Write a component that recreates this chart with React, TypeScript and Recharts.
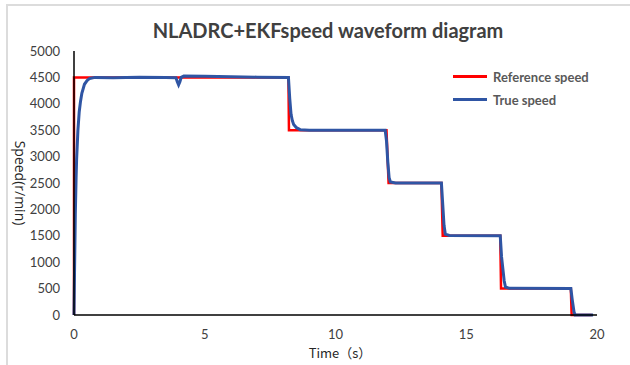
import React from 'react';
import { LineChart, Line, XAxis, YAxis } from 'recharts';

// reference (setpoint) speed, step profile
const refTime = [0, 0, 8.2, 8.22, 11.95, 12.03, 14.05, 14.1, 16.3, 16.33, 19.0, 19.03, 19.8];
const refSpeed = [0, 4500, 4500, 3500, 3500, 2500, 2500, 1500, 1500, 500, 500, 0, 0];

// measured speed
const trueTime = [
  0, 0.02, 0.05, 0.08, 0.1, 0.15, 0.2, 0.25, 0.3, 0.4, 0.5, 0.6, 0.8, 1.5, 2.5, 3.5, 3.9, 3.95, 4.0,
  4.05, 4.1, 4.2, 5, 6, 7, 8.2, 8.25, 8.3, 8.35, 8.4, 8.5, 8.65, 9, 11.9, 11.95, 12.0, 12.05, 12.1,
  12.3, 14.05, 14.1, 14.15, 14.2, 14.35, 16.3, 16.35, 16.45, 16.5, 16.65, 19.0, 19.05, 19.12, 19.16, 19.85,
];
const trueSpeed = [
  0, 800, 1900, 2600, 2950, 3500, 3850, 4050, 4200, 4370, 4440, 4480, 4500, 4495, 4505, 4500, 4495, 4420, 4360,
  4420, 4500, 4525, 4520, 4510, 4505, 4500, 4100, 3800, 3680, 3610, 3550, 3510, 3500, 3500, 3300, 2900, 2600, 2520,
  2500, 2500, 2100, 1700, 1530, 1505, 1500, 1100, 650, 530, 505, 500, 300, 60, 0, 0,
];

const xTicks = [0, 5, 10, 15, 20];
const yTicks = [0, 500, 1000, 1500, 2000, 2500, 3000, 3500, 4000, 4500, 5000];

const FONT = 'Lato, "Noto Sans", sans-serif';
const RED = '#ff0000';
const BLUE = '#2f55a4';

const refData = refTime.map((t, i) => ({ t, v: refSpeed[i] }));
const trueData = trueTime.map((t, i) => ({ t, v: trueSpeed[i] }));

const legendItems = [
  { name: 'Reference speed', color: RED },
  { name: 'True speed', color: BLUE },
];

export default function App() {
  return (
    <div style={{ position: 'absolute', left: 0, top: 0, width: 630, height: 365, background: '#fff', overflow: 'hidden' }}>
      <div
        style={{
          position: 'absolute',
          left: 6,
          top: 4,
          width: 640,
          height: 380,
          borderTop: '2px solid #dcdcdc',
          borderLeft: '2px solid #dcdcdc',
        }}
      />
      <div
        style={{
          position: 'absolute',
          left: 0,
          width: 656,
          top: 18,
          textAlign: 'center',
          fontFamily: FONT,
          fontWeight: 700,
          fontSize: 20,
          color: '#404040',
        }}
      >
        NLADRC+EKFspeed waveform diagram
      </div>
      <div
        style={{
          position: 'absolute',
          left: 20,
          top: 183,
          transform: 'translate(-50%, -50%) rotate(90deg)',
          fontFamily: '"Open Sans", sans-serif',
          fontSize: 14,
          color: '#262626',
          whiteSpace: 'nowrap',
        }}
      >
        Speed(r/min)
      </div>
      <div
        style={{
          position: 'absolute',
          left: 340,
          top: 352,
          transform: 'translate(-50%, -50%)',
          fontFamily: '"Noto Sans CJK SC", Lato, sans-serif',
          fontSize: 13,
          color: '#262626',
          whiteSpace: 'nowrap',
        }}
      >
        Time（s）
      </div>
      <div style={{ position: 'absolute', left: 453, top: 65, zIndex: 2 }}>
        {legendItems.map((it) => (
          <div key={it.name} style={{ display: 'flex', alignItems: 'center', height: 23 }}>
            <div style={{ width: 34, height: 3, background: it.color, marginRight: 6 }} />
            <span style={{ fontFamily: FONT, fontWeight: 700, fontSize: 13, color: '#595959' }}>{it.name}</span>
          </div>
        ))}
      </div>
      <LineChart width={630} height={365} margin={{ top: 51, right: 33, left: 24, bottom: 20 }} style={{ position: 'absolute', left: 0, top: 0 }}>
        <XAxis
          type="number"
          dataKey="t"
          domain={[0, 20]}
          ticks={xTicks}
          allowDuplicatedCategory={false}
          height={30}
          tickLine={false}
          axisLine={{ stroke: '#000', strokeWidth: 1.5 }}
          tick={{ fill: '#404040', fontSize: 13, fontFamily: FONT }}
          tickMargin={9}
        />
        <YAxis
          type="number"
          domain={[0, 5000]}
          ticks={yTicks}
          width={50}
          tickLine={false}
          axisLine={{ stroke: '#000', strokeWidth: 1.5 }}
          tick={{ fill: '#404040', fontSize: 13, fontFamily: FONT }}
          tickMargin={8}
        />
        <Line data={refData} dataKey="v" name="Reference speed" stroke={RED} strokeWidth={2.5} dot={false} isAnimationActive={false} />
        <Line data={trueData} dataKey="v" name="True speed" stroke={BLUE} strokeWidth={3} dot={false} isAnimationActive={false} />
      </LineChart>
    </div>
  );
}
